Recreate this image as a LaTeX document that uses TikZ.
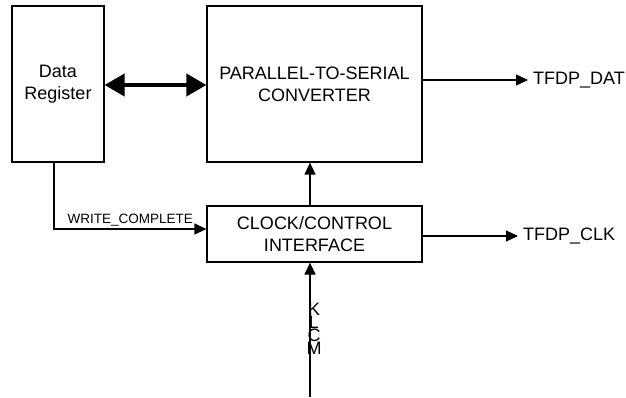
\documentclass[tikz,border=0pt]{standalone}
\usepackage{fontspec}
\setmainfont{Liberation Sans}
\usepackage{tikz}
\usetikzlibrary{arrows.meta, positioning, calc}

\begin{document}
\begin{tikzpicture}[
    x=1pt, y=-1pt,
    box/.style={rectangle, draw=black, line width=1.2pt, align=center, inner sep=0pt, font=\fontsize{18}{22}\selectfont},
    arrow/.style={-{Triangle[length=12pt, width=11pt]}, line width=1.2pt},
    bus/.style={{Triangle[length=20pt, width=22pt]}-{Triangle[length=20pt, width=22pt]}, line width=4pt},
    sig/.style={font=\fontsize{18}{22}\selectfont, inner sep=5pt, anchor=west}
]
\useasboundingbox (0,0) rectangle (626,398);

\node[box, minimum width=92pt, minimum height=156pt] (reg) at (58, 84) {Data\\Register};
\node[box, minimum width=215pt, minimum height=156pt] (p2s) at (314.5, 84) {PARALLEL-TO-SERIAL\\CONVERTER};
\node[box, minimum width=215pt, minimum height=56pt] (ctrl) at (314.5, 234) {CLOCK/CONTROL\\INTERFACE};
\node[sig] (dat) at (528, 80) {TFDP\_DAT};
\node[sig] (clk) at (518, 236) {TFDP\_CLK};
\coordinate (mclkin) at (310, 397);
\node[font=\fontsize{18}{13}\selectfont, align=center, inner sep=0pt] (mclk) at (314, 329) {K\\L\\C\\M};

\draw[bus] (reg.east |- 0,85) -- (p2s.west |- 0,85);
\draw[arrow] (p2s.east |- dat.west) -- (dat.west);
\draw[arrow] (ctrl.east |- clk.west) -- (clk.west);
\draw[arrow] (ctrl.north -| mclkin) -- (p2s.south -| mclkin);
\draw[arrow] (mclkin) -- (ctrl.south -| mclkin);
\draw[arrow] ([xshift=-4pt]reg.south) |- node[pos=0.75, above, font=\fontsize{13.5}{16}\selectfont, inner sep=2pt] {WRITE\_COMPLETE} ([yshift=5pt]ctrl.west);

\end{tikzpicture}
\end{document}
